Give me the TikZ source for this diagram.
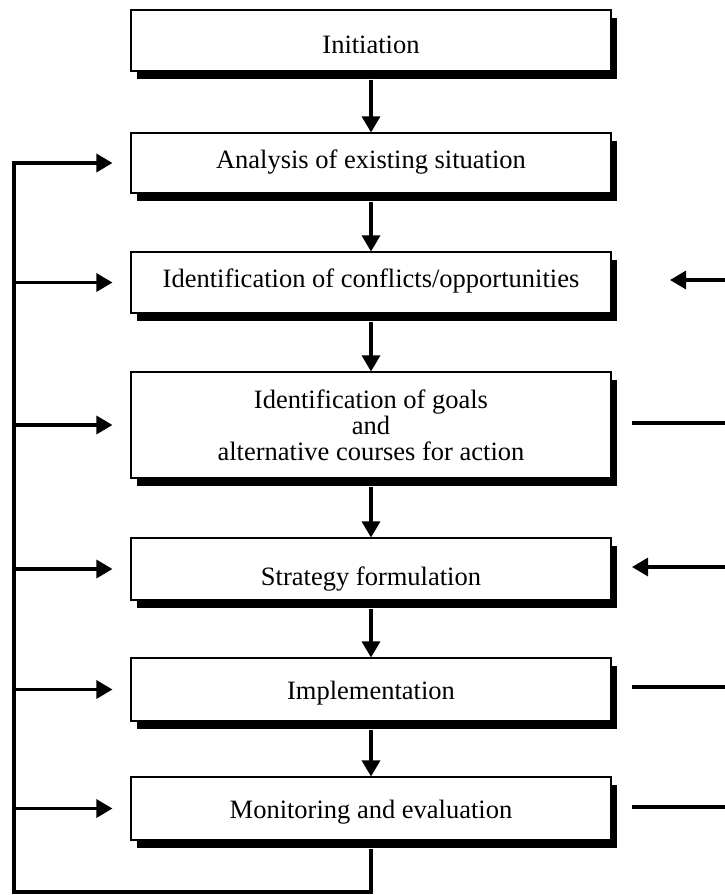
\documentclass[tikz,border=0pt]{standalone}
\usepackage{fontspec}
\setmainfont{Liberation Serif}
\usetikzlibrary{arrows.meta,shadows}
\begin{document}
\begin{tikzpicture}[x=1pt,y=-1pt,
  stage/.style={draw=black,line width=1.1pt,fill=white,minimum width=480pt,
    inner sep=0pt,
    drop shadow={shadow xshift=6pt,shadow yshift=-8pt,fill=black,opacity=1}},
  lbl/.style={inner sep=0pt,align=center,font=\fontsize{26.5}{26}\selectfont},
  arr/.style={line width=3.2pt,-{Triangle[length=16pt,width=18pt]}},
  ln/.style={line width=3.2pt}]
\useasboundingbox (0,0) rectangle (725,895);
\node[stage,minimum height=61pt] (b1) at (371,40.5) {};
\node[stage,minimum height=60pt] (b2) at (371,163) {};
\node[stage,minimum height=61pt] (b3) at (371,282.5) {};
\node[stage,minimum height=106pt] (b4) at (371,425) {};
\node[stage,minimum height=62pt] (b5) at (371,569) {};
\node[stage,minimum height=63pt] (b6) at (371,689.5) {};
\node[stage,minimum height=63pt] (b7) at (371,808.5) {};
\node[lbl,anchor=base] (t1) at (371,53) {Initiation};
\node[lbl,anchor=base] (t2) at (371,168) {Analysis of existing situation};
\node[lbl,anchor=base] (t3) at (371,287) {Identification of conflicts/opportunities};
\node[lbl] (t4) at (371,425) {Identification of goals\\and\\alternative courses for action};
\node[lbl,anchor=base] (t5) at (371,585) {Strategy formulation};
\node[lbl,anchor=base] (t6) at (371,699) {Implementation};
\node[lbl,anchor=base] (t7) at (371,818) {Monitoring and evaluation};
% vertical flow
\foreach \a/\b in {b1/b2,b2/b3,b3/b4,b4/b5,b5/b6,b6/b7}
  \draw[arr] ([yshift=-8pt]\a.south) -- (\b.north);
% feedback loop
\coordinate (lb) at (14,892);
\coordinate (lt) at (14,163);
\draw[ln,line join=miter] ([yshift=-8pt]b7.south) |- (lb) -- (lt) -- ([xshift=-30pt]b2.west);
\draw[arr] ([xshift=-32pt]b2.west) -- ([xshift=-18pt]b2.west);
\foreach \b in {b3,b4,b5,b6,b7}
  \draw[arr] (lt |- \b.west) -- ([xshift=-18pt]\b.west);
% right side
\coordinate (r3) at (725,280);
\coordinate (r4) at (725,423);
\coordinate (r5) at (725,567);
\coordinate (r6) at (725,687);
\coordinate (r7) at (725,807);
\draw[arr] (r3) -- (670,280);
\draw[ln] (r4) -- (632,423);
\draw[arr] (r5) -- (632,567);
\draw[ln] (r6) -- (632,687);
\draw[ln] (r7) -- (632,807);
\end{tikzpicture}
\end{document}
